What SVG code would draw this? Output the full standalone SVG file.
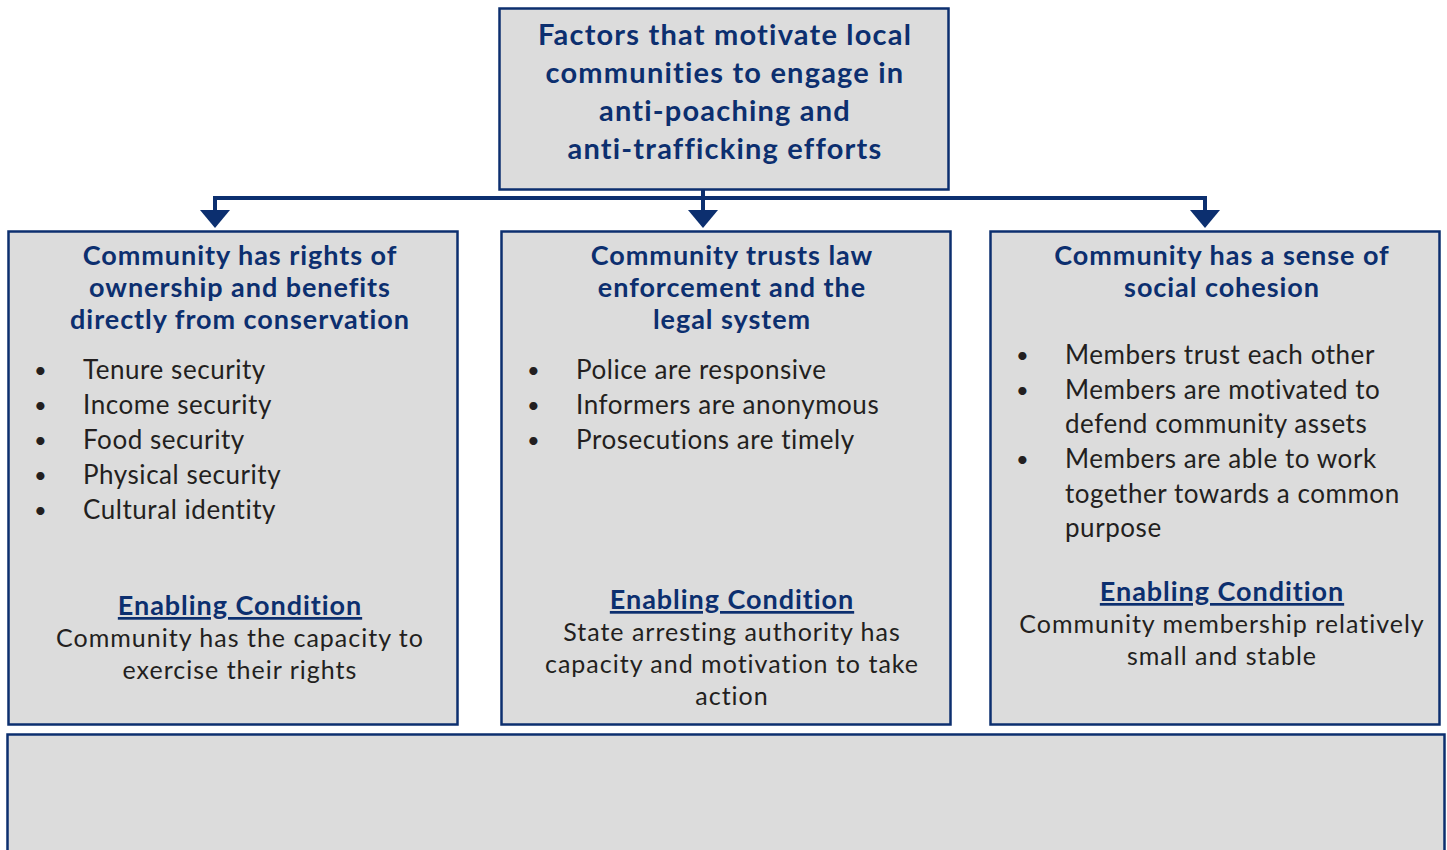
<svg xmlns="http://www.w3.org/2000/svg" width="1447" height="850" viewBox="0 0 1447 850">
  <defs>
    <style>
      .box { fill: #dcdcdc; stroke: #0c2f6f; stroke-width: 2.5; }
      .wire { fill: none; stroke: #0c2f6f; stroke-width: 4; }
      .head { fill: #0c2f6f; }
      .title { font-family: "Lato", "Open Sans", sans-serif; font-weight: bold; font-size: 29px; letter-spacing: 1.2px; fill: #0c2f6f; text-anchor: middle; }
      .h { font-family: "Lato", "Open Sans", sans-serif; font-weight: bold; font-size: 27px; letter-spacing: 0.95px; fill: #0c2f6f; text-anchor: middle; }
      .b { font-family: "Lato", "Open Sans", sans-serif; font-size: 26px; letter-spacing: 0.55px; fill: #231f20; }
      .dot { font-family: "Lato", "Open Sans", sans-serif; font-size: 22px; fill: #231f20; }
      .ec { font-family: "Lato", "Open Sans", sans-serif; font-weight: bold; font-size: 27px; letter-spacing: 0.95px; fill: #0c2f6f; text-anchor: middle; text-decoration: underline; }
      .d { font-family: "Lato", "Open Sans", sans-serif; font-size: 25px; letter-spacing: 1px; fill: #231f20; text-anchor: middle; }
    </style>
  </defs>

  <!-- connectors: trunk, bus and three arrows -->
  <g id="connectors">
    <path class="wire" d="M703 190 V198 M213 198 H1207 M215 198 V212 M703 198 V212 M1205 198 V212"/>
    <path class="head" d="M200 210 H230 L215 228 Z"/>
    <path class="head" d="M688 210 H718 L703 228 Z"/>
    <path class="head" d="M1190 210 H1220 L1205 228 Z"/>
  </g>

  <g id="root">
    <rect class="box" x="499.5" y="8.5" width="449" height="181"/>
    <text class="title" x="725" y="45">Factors that motivate local</text>
    <text class="title" x="725" y="83">communities to engage in</text>
    <text class="title" x="725" y="121">anti-poaching and</text>
    <text class="title" x="725" y="159">anti-trafficking efforts</text>
  </g>

  <g id="ownership">
    <rect class="box" x="8.5" y="231.5" width="449" height="493"/>
    <text class="h" x="240" y="265">Community has rights of</text>
    <text class="h" x="240" y="297">ownership and benefits</text>
    <text class="h" x="240" y="329">directly from conservation</text>
    <text class="dot" x="34" y="378">•</text><text class="b" x="83" y="379">Tenure security</text>
    <text class="dot" x="34" y="413">•</text><text class="b" x="83" y="414">Income security</text>
    <text class="dot" x="34" y="448">•</text><text class="b" x="83" y="449">Food security</text>
    <text class="dot" x="34" y="483">•</text><text class="b" x="83" y="484">Physical security</text>
    <text class="dot" x="34" y="518">•</text><text class="b" x="83" y="519">Cultural identity</text>
    <text class="ec" x="240" y="615">Enabling Condition</text>
    <text class="d" x="240" y="647">Community has the capacity to</text>
    <text class="d" x="240" y="679">exercise their rights</text>
  </g>

  <g id="law">
    <rect class="box" x="501.5" y="231.5" width="449" height="493"/>
    <text class="h" x="732" y="265">Community trusts law</text>
    <text class="h" x="732" y="297">enforcement and the</text>
    <text class="h" x="732" y="329">legal system</text>
    <text class="dot" x="527" y="378">•</text><text class="b" x="576" y="379">Police are responsive</text>
    <text class="dot" x="527" y="413">•</text><text class="b" x="576" y="414">Informers are anonymous</text>
    <text class="dot" x="527" y="448">•</text><text class="b" x="576" y="449">Prosecutions are timely</text>
    <text class="ec" x="732" y="609">Enabling Condition</text>
    <text class="d" x="732" y="641">State arresting authority has</text>
    <text class="d" x="732" y="673">capacity and motivation to take</text>
    <text class="d" x="732" y="705">action</text>
  </g>

  <g id="cohesion">
    <rect class="box" x="990.5" y="231.5" width="449" height="493"/>
    <text class="h" x="1222" y="265">Community has a sense of</text>
    <text class="h" x="1222" y="297">social cohesion</text>
    <text class="dot" x="1016" y="363">•</text><text class="b" x="1065" y="364">Members trust each other</text>
    <text class="dot" x="1016" y="398">•</text><text class="b" x="1065" y="399">Members are motivated to</text>
    <text class="b" x="1065" y="433">defend community assets</text>
    <text class="dot" x="1016" y="467">•</text><text class="b" x="1065" y="468">Members are able to work</text>
    <text class="b" x="1065" y="503">together towards a common</text>
    <text class="b" x="1065" y="537">purpose</text>
    <text class="ec" x="1222" y="601">Enabling Condition</text>
    <text class="d" x="1222" y="633">Community membership relatively</text>
    <text class="d" x="1222" y="665">small and stable</text>
  </g>

  <g id="footer">
    <rect class="box" x="7.5" y="734.5" width="1437" height="130"/>
  </g>
</svg>
